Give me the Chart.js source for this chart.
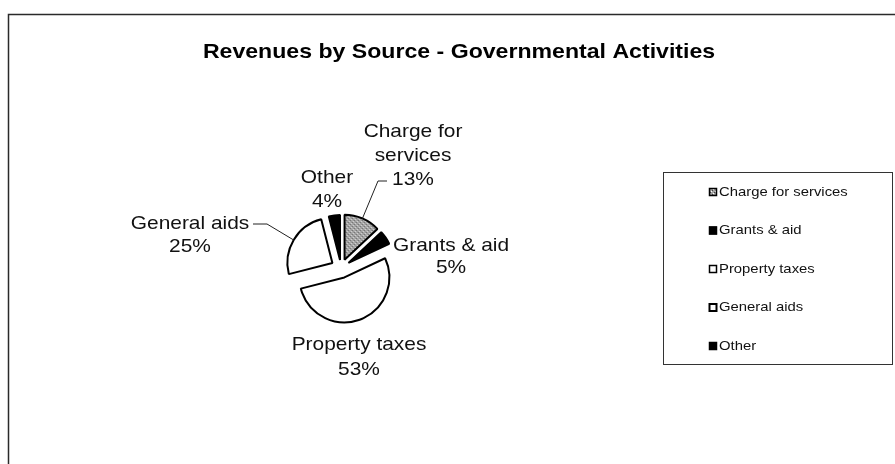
<!DOCTYPE html>
<html>
<head>
<meta charset="utf-8">
<title>Revenues by Source - Governmental Activities</title>
<script src="https://cdn.jsdelivr.net/npm/chart.js@4.4.1/dist/chart.umd.min.js"></script>
<style>
  html, body { margin: 0; padding: 0; background: #fff; }
  #wrap { width: 895px; height: 464px; }
</style>
</head>
<body>
<div id="wrap"><canvas id="pie" width="895" height="464"></canvas></div>
<script>
/* ── Data ── */
const TITLE = "Revenues by Source - Governmental Activities";
const categories = ["Charge for services", "Grants & aid", "Property taxes", "General aids", "Other"];
const shares = [13, 5, 53, 25, 4];   // percent

/* ── Layout / style ── */
const FONT = "'Liberation Sans', Arial, sans-serif";
const SX = 1.1;                      // the scan is slightly stretched sideways
const explode = [9, 9, 10, 10, 8];   // px each slice is pulled out
const labelSpots = [                 // centre x + baselines of the callouts
  { lines: ["Charge for", "services"], x: 413, y: [137, 161, 185], leader: [[378, 181], [387, 181]] },
  { lines: ["Grants & aid"], x: 451, y: [251, 273] },
  { lines: ["Property taxes"], x: 359, y: [350, 375] },
  { lines: ["General aids"], x: 190, y: [229, 252], leader: [[267, 224], [253, 224]] },
  { lines: ["Other"], x: 327, y: [183, 207] },
];
const legendBox = { x: 663.5, y: 172.5, w: 229, h: 192 };

// stippled grey for "Charge for services"
function stipple() {
  const c = document.createElement("canvas");
  c.width = 4; c.height = 4;
  const g = c.getContext("2d");
  g.fillStyle = "#a4a4a4"; g.fillRect(0, 0, 4, 4);
  g.fillStyle = "#ffffff"; g.fillRect(1, 1, 1, 1); g.fillRect(3, 3, 1, 1);
  g.fillStyle = "#444444"; g.fillRect(0, 2, 1, 1); g.fillRect(2, 0, 1, 1);
  return g.createPattern(c, "repeat");
}
const sliceFill = [stipple(), "#000000", "#ffffff", "#ffffff", "#000000"];

function text(ctx, str, x, y, align) {
  ctx.save();
  ctx.translate(x, y);
  ctx.scale(SX, 1);
  ctx.textAlign = align;
  ctx.fillText(str, 0, 0);
  ctx.restore();
}

// ── Frame + title ───────────────────────────────────────────────────────────
const framePlugin = {
  id: "frame",
  beforeDraw(chart) {
    const ctx = chart.ctx;
    ctx.save();
    ctx.fillStyle = "#fff";
    ctx.fillRect(0, 0, chart.width, chart.height);
    ctx.strokeStyle = "#2a2a2a";
    ctx.lineWidth = 1.5;
    ctx.beginPath();
    ctx.moveTo(8.5, chart.height);
    ctx.lineTo(8.5, 14.5);
    ctx.lineTo(chart.width, 14.5);
    ctx.stroke();
    ctx.fillStyle = "#000";
    ctx.font = `bold 21px ${FONT}`;
    ctx.textBaseline = "alphabetic";
    text(ctx, TITLE, 459, 58, "center");
    ctx.restore();
  },
};

// ── Exploded slices (draw each arc moved out along its mid angle) ───────────
const explodePlugin = {
  id: "explode",
  beforeDatasetDraw(chart, args) {
    const ctx = chart.ctx;
    args.meta.data.forEach((arc, i) => {
      const mid = (arc.startAngle + arc.endAngle) / 2;
      ctx.save();
      ctx.translate(Math.cos(mid) * explode[i], Math.sin(mid) * explode[i]);
      arc.draw(ctx);
      ctx.restore();
    });
    return false;
  },
};

// ── Callouts + legend ───────────────────────────────────────────────────────
const calloutPlugin = {
  id: "callouts",
  afterDatasetsDraw(chart) {
    const ctx = chart.ctx;
    const arcs = chart.getDatasetMeta(0).data;
    ctx.save();
    ctx.fillStyle = "#111";
    ctx.font = `19px ${FONT}`;
    ctx.textBaseline = "alphabetic";

    arcs.forEach((arc, i) => {
      const spot = labelSpots[i];
      const lines = spot.lines.concat([shares[i] + "%"]);
      lines.forEach((ln, k) => text(ctx, ln, spot.x, spot.y[k], "center"));

      if (spot.leader) {
        const mid = (arc.startAngle + arc.endAngle) / 2;
        const r = arc.outerRadius + explode[i];
        ctx.strokeStyle = "#222";
        ctx.lineWidth = 1;
        ctx.beginPath();
        ctx.moveTo(arc.x + Math.cos(mid) * r, arc.y + Math.sin(mid) * r);
        spot.leader.forEach(([x, y]) => ctx.lineTo(x, y));
        ctx.stroke();
      }
    });

    // legend
    const b = legendBox;
    ctx.strokeStyle = "#333";
    ctx.lineWidth = 1;
    ctx.strokeRect(b.x, b.y, b.w, b.h);
    ctx.font = `13.5px ${FONT}`;
    ctx.textBaseline = "middle";
    categories.forEach((name, i) => {
      const y = 192 + i * 38.5;
      ctx.fillStyle = sliceFill[i];
      ctx.fillRect(709, y - 4, 8, 8);
      ctx.strokeStyle = "#000";
      ctx.lineWidth = i === 3 ? 2 : 1.5;
      ctx.strokeRect(709.5, y - 3.5, 7, 7);
      ctx.fillStyle = "#111";
      text(ctx, name, 719, y, "left");
    });
    ctx.restore();
  },
};

// ── Chart ───────────────────────────────────────────────────────────────────
new Chart(document.getElementById("pie").getContext("2d"), {
  type: "pie",
  data: {
    labels: categories,
    datasets: [{
      data: shares,
      backgroundColor: sliceFill,
      borderColor: "#000",
      borderWidth: 2,
    }],
  },
  options: {
    responsive: false,
    animation: false,
    radius: 45,
    layout: { padding: { left: 0, right: 213, top: 72, bottom: 0 } },
    plugins: {
      legend: { display: false },
      title: { display: false },
      tooltip: { enabled: false },
    },
  },
  plugins: [framePlugin, explodePlugin, calloutPlugin],
});
</script>
</body>
</html>
